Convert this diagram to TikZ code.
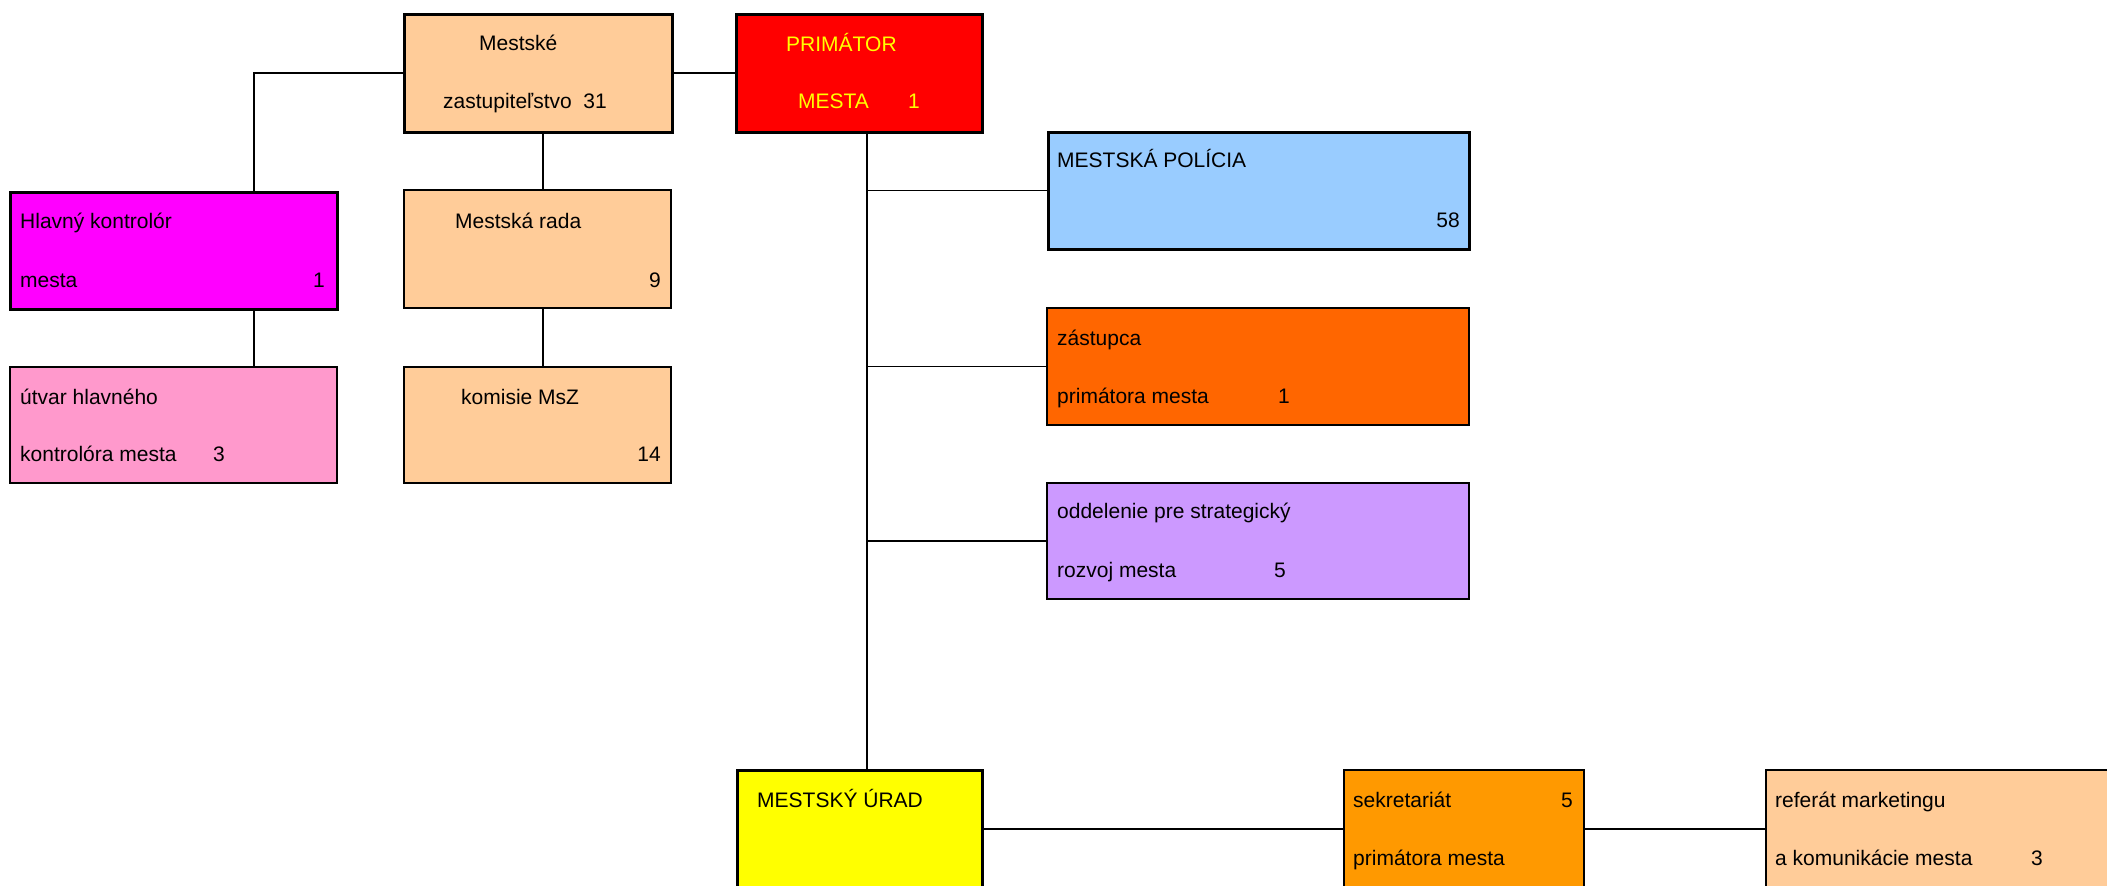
\documentclass[tikz,border=0pt]{standalone}
\usepackage{fontspec}
\setmainfont{Liberation Sans}
\definecolor{peach}{HTML}{FFCC99}
\definecolor{pred}{HTML}{FF0000}
\definecolor{pyellow}{HTML}{FFFF00}
\definecolor{pmagenta}{HTML}{FF00FF}
\definecolor{ppink}{HTML}{FF99CC}
\definecolor{pblue}{HTML}{99CCFF}
\definecolor{porange}{HTML}{FF6600}
\definecolor{plilac}{HTML}{CC99FF}
\definecolor{pamber}{HTML}{FF9900}
\begin{document}
\begin{tikzpicture}[x=1pt,y=-1pt,
  box/.style={draw=black, line width=1.5pt, rectangle, inner sep=0pt, outer sep=0pt, anchor=north west},
  heavybox/.style={box, line width=3pt},
  lbl/.style={inner sep=0pt, anchor=base west, font=\fontsize{21}{25}\selectfont},
  num/.style={lbl, anchor=base east},
  link/.style={line width=1.7pt, draw=black}]
\useasboundingbox (0,0) rectangle (2107,886);
\clip (0,0) rectangle (2107,886);
% boxes
\node[heavybox, fill=peach, minimum width=268pt, minimum height=118pt] (zast) at (404,14) {};
\node[heavybox, fill=pred, minimum width=246pt, minimum height=118pt] (prim) at (736,14) {};
\node[heavybox, fill=pmagenta, minimum width=327pt, minimum height=117pt] (hlav) at (10,192) {};
\node[box, fill=peach, minimum width=267pt, minimum height=118pt] (rada) at (404,190) {};
\node[box, fill=ppink, minimum width=327pt, minimum height=116pt] (utvar) at (10,367) {};
\node[box, fill=peach, minimum width=267pt, minimum height=116pt] (komisie) at (404,367) {};
\node[heavybox, fill=pblue, minimum width=421pt, minimum height=117pt] (policia) at (1048,132) {};
\node[box, fill=porange, minimum width=422pt, minimum height=117pt] (zastupca) at (1047,308) {};
\node[box, fill=plilac, minimum width=422pt, minimum height=116pt] (strat) at (1047,483) {};
\node[heavybox, fill=pyellow, minimum width=245pt, minimum height=118pt] (urad) at (737,770) {};
\node[box, fill=pamber, minimum width=240pt, minimum height=118pt] (sekr) at (1344,770) {};
\node[box, fill=peach, minimum width=370pt, minimum height=118pt] (ref) at (1766,770) {};
% connectors
\coordinate (j1) at (254,0);
\coordinate (j2) at (543,0);
\coordinate (tr) at (867,0);
\draw[link] (zast.west) -- (zast.west -| j1) -- (hlav.north -| j1);
\draw[link] (hlav.south -| j1) -- (utvar.north -| j1);
\draw[link] (zast.south -| j2) -- (rada.north -| j2);
\draw[link] (rada.south -| j2) -- (komisie.north -| j2);
\draw[link] (zast.east) -- (prim.west);
\draw[link] (prim.south -| tr) -- (urad.north -| tr);
\draw[link] (policia.west -| tr) -- (policia.west);
\draw[link] (zastupca.west -| tr) -- (zastupca.west);
\draw[link] (strat.west -| tr) -- (strat.west);
\draw[link] (urad.east) -- (sekr.west);
\draw[link] (sekr.east) -- (ref.west);
% texts
\node[lbl] (t1) at (479,50) {Mestské};
\node[lbl] (t2) at (443,108) {zastupiteľstvo};
\node[num] (t3) at (607,108) {31};
\node[lbl, text=pyellow] (t4) at (786,51) {PRIMÁTOR};
\node[lbl, text=pyellow] (t5) at (798,108) {MESTA};
\node[lbl, text=pyellow] (t6) at (908,108) {1};
\node[lbl] (t7) at (20,228) {Hlavný kontrolór};
\node[lbl] (t8) at (20,287) {mesta};
\node[num] (t9) at (325,287) {1};
\node[lbl] (t10) at (455,228) {Mestská rada};
\node[num] (t11) at (661,287) {9};
\node[lbl] (t12) at (20,404) {útvar hlavného};
\node[lbl] (t13) at (20,461) {kontrolóra mesta};
\node[lbl] (t14) at (213,461) {3};
\node[lbl] (t15) at (461,404) {komisie MsZ};
\node[num] (t16) at (661,461) {14};
\node[lbl] (t17) at (1057,167) {MESTSKÁ POLÍCIA};
\node[num] (t18) at (1460,227) {58};
\node[lbl] (t19) at (1057,345) {zástupca};
\node[lbl] (t20) at (1057,403) {primátora mesta};
\node[lbl] (t21) at (1278,403) {1};
\node[lbl] (t22) at (1057,518) {oddelenie pre strategický};
\node[lbl] (t23) at (1057,577) {rozvoj mesta};
\node[lbl] (t24) at (1274,577) {5};
\node[lbl] (t25) at (757,807) {MESTSKÝ ÚRAD};
\node[lbl] (t26) at (1353,807) {sekretariát};
\node[num] (t27) at (1573,807) {5};
\node[lbl] (t28) at (1353,865) {primátora mesta};
\node[lbl] (t29) at (1775,807) {referát marketingu};
\node[lbl] (t30) at (1775,865) {a komunikácie mesta};
\node[lbl] (t31) at (2031,865) {3};
\end{tikzpicture}
\end{document}
